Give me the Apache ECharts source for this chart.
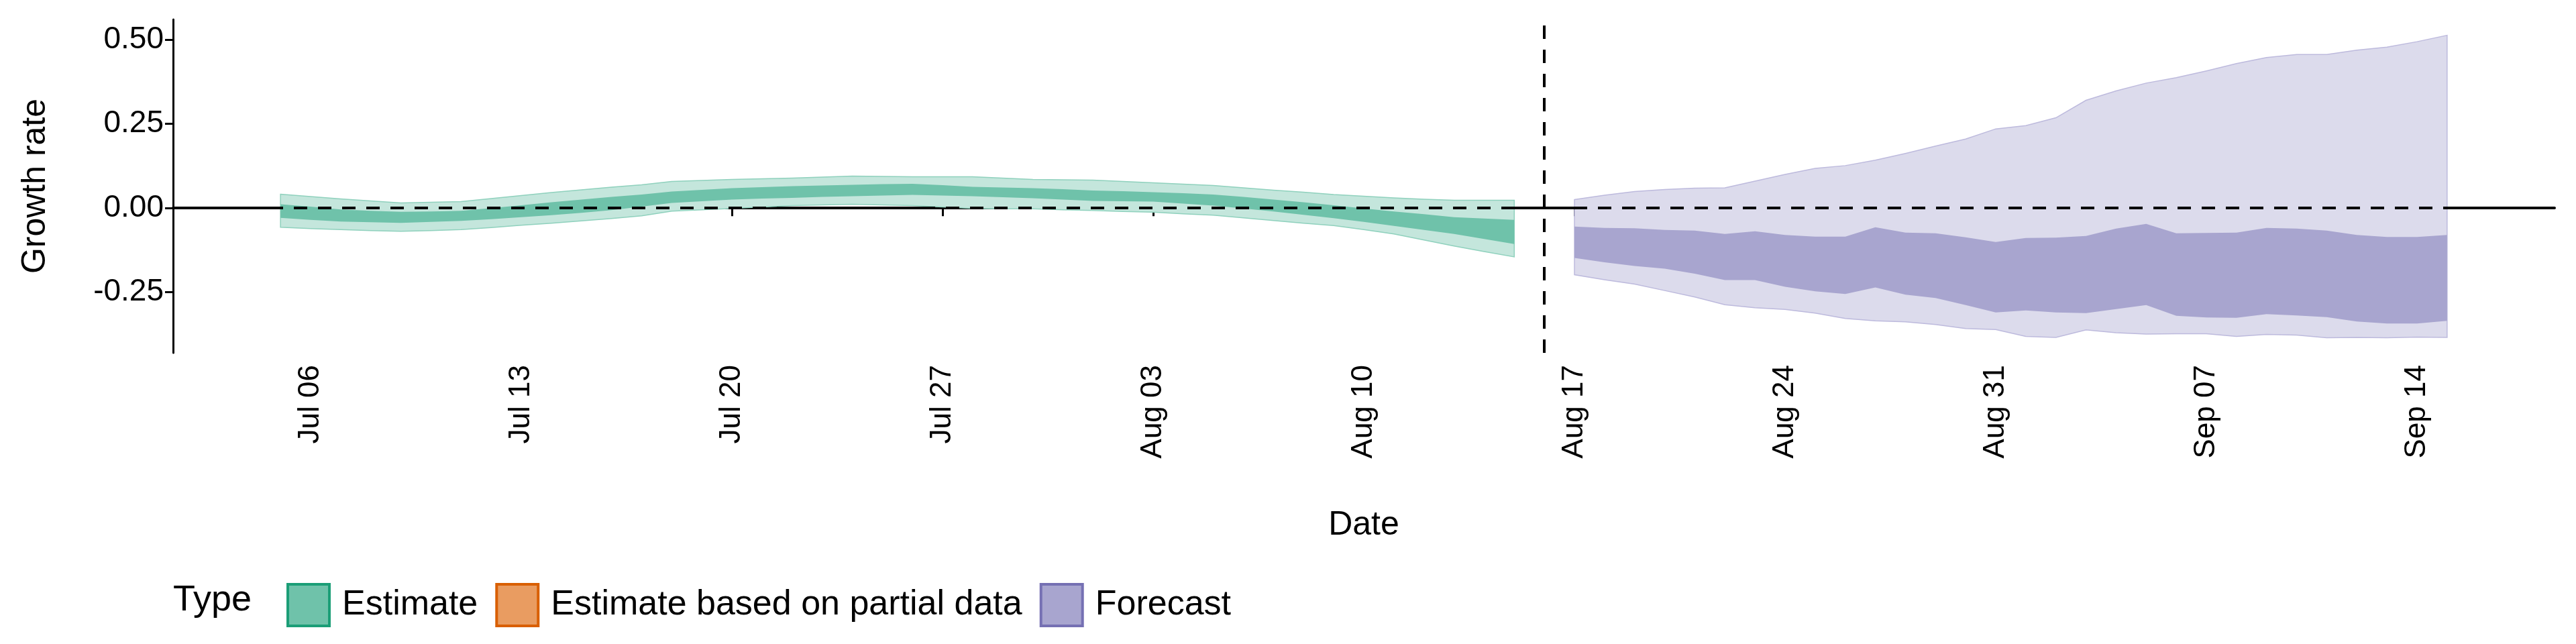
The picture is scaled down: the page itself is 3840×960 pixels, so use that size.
<!DOCTYPE html>
<html lang="en">
  <head>
    <meta charset="UTF-8" />
    <title>Growth rate</title>
    <script src="https://cdn.jsdelivr.net/npm/echarts@6/dist/echarts.min.js"></script>
  </head>
  <body style="margin: 0">
    <div id="main" style="width: 3840px; height: 960px"></div>
    <script type="text/javascript">
      // dates and bands
      var estStart = "2020-07-05"; // 42 daily points
      var fcStart = "2020-08-17"; // 30 daily points
      var cutDate = "2020-08-16";
      var tickDates = ["2020-07-06", "2020-07-13", "2020-07-20", "2020-07-27", "2020-08-03", "2020-08-10",
        "2020-08-17", "2020-08-24", "2020-08-31", "2020-09-07", "2020-09-14"];
      var tickLabels = ["Jul 06", "Jul 13", "Jul 20", "Jul 27", "Aug 03", "Aug 10",
        "Aug 17", "Aug 24", "Aug 31", "Sep 07", "Sep 14"];
      var yTicks = [-0.25, 0, 0.25, 0.5];

      var estOuterHi = [.041,.034,.027,.021,.015,.017,.019,.028,.037,.046,.054,.062,.069,.079,.082,.085,.087,.089,.092,.095,
        .094,.093,.093,.093,.089,.085,.084,.083,.079,.075,.071,.067,.060,.053,.047,.040,.035,.030,.026,.023,.023,.023];
      var estInnerHi = [.011,.004,-.004,-.008,-.011,-.010,-.008,.000,.008,.017,.025,.033,.040,.049,.054,.059,.062,.065,.067,.069,
        .071,.072,.068,.063,.061,.059,.056,.052,.050,.047,.044,.040,.033,.025,.017,.008,-.001,-.010,-.018,-.027,-.031,-.035];
      var estInnerLo = [-.029,-.035,-.040,-.042,-.044,-.041,-.038,-.033,-.027,-.021,-.014,-.006,.004,.015,.020,.025,.028,.030,.033,.035,
        .037,.039,.037,.035,.032,.029,.025,.021,.020,.019,.013,.007,-.001,-.010,-.020,-.030,-.041,-.053,-.065,-.077,-.092,-.107];
      var estOuterLo = [-.057,-.061,-.064,-.067,-.069,-.067,-.064,-.058,-.051,-.045,-.038,-.031,-.023,-.009,-.005,-.001,.003,.007,.009,.011,
        .009,.007,.003,-.001,-.002,-.002,-.005,-.007,-.010,-.012,-.017,-.021,-.029,-.037,-.045,-.052,-.064,-.077,-.095,-.113,-.129,-.145];

      var fcOuterHi = [.025,.038,.049,.055,.059,.060,.080,.100,.118,.126,.142,.162,.184,.205,.235,.245,.268,.320,.348,.371,
        .387,.407,.429,.447,.456,.456,.469,.478,.494,.513];
      var fcInnerHi = [-.055,-.059,-.060,-.065,-.067,-.077,-.069,-.080,-.085,-.085,-.057,-.073,-.075,-.087,-.101,-.089,-.088,-.083,-.061,-.047,
        -.075,-.074,-.073,-.059,-.061,-.067,-.080,-.086,-.086,-.080];
      var fcInnerLo = [-.148,-.161,-.172,-.180,-.195,-.214,-.214,-.234,-.247,-.255,-.236,-.257,-.267,-.288,-.310,-.304,-.310,-.312,-.300,-.288,
        -.320,-.325,-.326,-.315,-.319,-.324,-.337,-.343,-.343,-.335];
      var fcOuterLo = [-.198,-.213,-.226,-.245,-.264,-.287,-.296,-.301,-.312,-.328,-.335,-.338,-.346,-.358,-.361,-.381,-.384,-.362,-.370,-.374,
        -.373,-.373,-.381,-.375,-.377,-.385,-.384,-.385,-.383,-.384];

      var DAY = 86400000;
      var t0 = Date.parse("2020-07-01");
      function dayNum(s) { return (Date.parse(s) - t0) / DAY; }
      var FONT = "Liberation Sans, Arial, sans-serif";

      // one ribbon polygon per band, drawn through the axes via api.coord
      function band(name, start, lo, hi, fill, edge, z) {
        var d0 = dayNum(start);
        var data = lo.map(function (v, i) { return [d0 + i, v, hi[i]]; });
        return {
          name: name, type: "custom", data: data, silent: true, z: z,
          encode: { x: 0, y: [1, 2] },
          renderItem: function (params, api) {
            if (params.dataIndex !== 0) return null;
            var top = data.map(function (d) { return api.coord([d[0], d[2]]); });
            var bot = data.map(function (d) { return api.coord([d[0], d[1]]); }).reverse();
            return {
              type: "polygon",
              shape: { points: top.concat(bot) },
              style: { fill: fill, stroke: edge || fill, lineWidth: edge ? 1.5 : 0 }
            };
          }
        };
      }

      var series = [
        band("Estimate", estStart, estOuterLo, estOuterHi, "#c4e6dc", "#8fd1bd", 2),
        band("Estimate", estStart, estInnerLo, estInnerHi, "#6fc2aa", null, 3),
        band("Forecast", fcStart, fcOuterLo, fcOuterHi, "#dcdbec", "#bdbadd", 2),
        band("Forecast", fcStart, fcInnerLo, fcInnerHi, "#a8a5cf", null, 3),
        { name: "Estimate based on partial data", type: "line", data: [] },
        {
          type: "line", data: [], silent: true, z: 5,
          markLine: {
            symbol: "none", silent: true, label: { show: false },
            lineStyle: { color: "#000", type: [20, 16], width: 4 },
            data: [{ yAxis: 0 }, { xAxis: dayNum(cutDate) }]
          }
        }
      ];

      var myChart = echarts.init(document.getElementById("main"));
      var option = {
        animation: false,
        textStyle: { fontFamily: FONT },
        grid: { left: 258, right: 32, top: 29, bottom: 434 },
        xAxis: {
          type: "value",
          min: dayNum("2020-07-01") + 0.43,
          max: dayNum("2020-09-18") + 0.57,
          name: "Date", nameLocation: "middle", nameGap: 232,
          nameTextStyle: { fontSize: 50, color: "#000" },
          axisLine: { lineStyle: { color: "#000", width: 4 } },
          axisTick: { length: 12, lineStyle: { color: "#000", width: 3 }, customValues: tickDates.map(dayNum) },
          axisLabel: {
            rotate: 90, fontSize: 44, color: "#000", margin: 18,
            customValues: tickDates.map(dayNum),
            formatter: function (v) {
              var i = tickDates.map(dayNum).indexOf(v);
              return i >= 0 ? tickLabels[i] : "";
            }
          },
          splitLine: { show: false }
        },
        yAxis: {
          type: "value", min: -0.43, max: 0.56,
          name: "Growth rate", nameLocation: "middle", nameGap: 180,
          nameTextStyle: { fontSize: 50, color: "#000" },
          axisLine: { show: true, lineStyle: { color: "#000", width: 3 } },
          axisTick: { show: true, length: 12, lineStyle: { color: "#000", width: 3 }, customValues: yTicks },
          axisLabel: {
            fontSize: 46, color: "#000", margin: 14, customValues: yTicks,
            formatter: function (v) { return v.toFixed(2); }
          },
          splitLine: { show: false }
        },
        legend: {
          left: 422, top: 864, itemWidth: 62, itemHeight: 62, itemGap: 26,
          icon: "rect",
          textStyle: { fontSize: 52, color: "#000", padding: [0, 0, 0, 14] },
          data: [
            { name: "Estimate", itemStyle: { color: "#6fc2aa", borderColor: "#1b9e77", borderWidth: 4 } },
            { name: "Estimate based on partial data", itemStyle: { color: "#e99c61", borderColor: "#d95f02", borderWidth: 4 } },
            { name: "Forecast", itemStyle: { color: "#a8a5cf", borderColor: "#7570b3", borderWidth: 4 } }
          ],
          selectedMode: false
        },
        graphic: [{
          type: "text", left: 258, top: 868,
          style: { text: "Type", fontSize: 54, fill: "#000", fontFamily: FONT }
        }],
        series: series
      };
      myChart.setOption(option);
    </script>
  </body>
</html>
